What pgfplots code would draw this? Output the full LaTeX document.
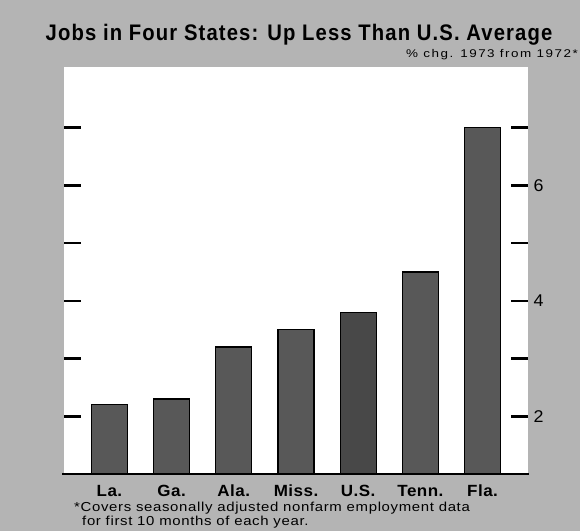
\documentclass[border=0pt]{standalone}
\usepackage{pgfplots}
\pgfplotsset{compat=1.18}
\usepackage{fontspec}
\setmainfont{Liberation Sans}
\newfontfamily\titlefont[FakeStretch=0.9,LetterSpace=5]{Liberation Sans}
\newfontfamily\labfont[FakeStretch=1.05,LetterSpace=3]{Liberation Sans}
\newfontfamily\notefont[FakeStretch=1.15,LetterSpace=5]{Liberation Sans}
\newfontfamily\subfont[FakeStretch=1.2,LetterSpace=13.5]{Liberation Sans}
\definecolor{bggray}{RGB}{180,180,180}
\definecolor{bargray}{RGB}{88,88,88}
\definecolor{usgray}{RGB}{72,72,72}
\begin{document}
\begin{tikzpicture}[x=1pt,y=1pt]
\fill[bggray] (0,0) rectangle (580,531);
\begin{axis}[
  name=ax,
  at={(64pt,57pt)}, anchor=south west,
  scale only axis, width=464pt, height=407pt,
  xmin=-0.73, xmax=6.73, ymin=1, ymax=8.05,
  axis background/.style={fill=white},
  axis line style={draw=none},
  xtick={0,...,6},
  xticklabels={La.,Ga.,Ala.,Miss.,U.S.,Tenn.,Fla.},
  x tick style={draw=none},
  xticklabel style={font=\labfont\bfseries\fontsize{16.2}{16.2}\selectfont, anchor=base, yshift=-5.5pt},
  ytick={2,...,7},
  yticklabels={2,,4,,6,},
  yticklabel pos=right,
  yticklabel style={font=\labfont\fontsize{17}{17}\selectfont, xshift=2pt},
  y tick style={line width=2.6pt, black},
  major tick length=17pt,
  tick align=inside,
  ybar, bar width=36pt,
  /pgf/number format/assume math mode=true,
]
\addplot[fill=bargray, draw=black, line width=1.3pt, bar shift=0pt] coordinates {(0,2.2) (1,2.3) (2,3.2) (3,3.5) (5,4.5) (6,7.0)};
\addplot[fill=usgray, draw=black, line width=1.3pt, bar shift=0pt] coordinates {(4,3.8)};
\end{axis}
\draw[line width=2.6pt] (62,57) -- (529,57);
\node[anchor=base, font=\titlefont\bfseries\fontsize{22.5}{22.5}\selectfont, inner sep=0pt] at (299,490) {Jobs in Four States: Up Less Than U.S. Average};
\node[anchor=base east, font=\subfont\fontsize{11.2}{11.2}\selectfont, inner sep=0pt] at (578,473) {\% chg. 1973 from 1972*};
\node[anchor=base west, font=\notefont\fontsize{13}{13}\selectfont, inner sep=0pt] at (74,20) {*Covers seasonally adjusted nonfarm employment data};
\node[anchor=base west, font=\notefont\fontsize{13}{13}\selectfont, inner sep=0pt] at (82,5.5) {for first 10 months of each year.};
\pgfresetboundingbox
\path[use as bounding box] (0,0) rectangle (580,531);
\end{tikzpicture}
\end{document}
